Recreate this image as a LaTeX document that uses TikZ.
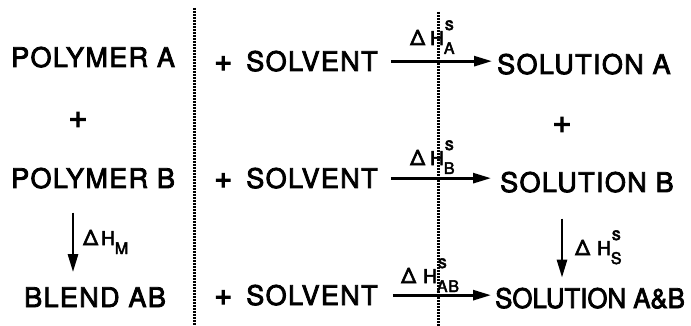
\documentclass[tikz,border=0pt]{standalone}
\usepackage{fontspec}
\setmainfont{TeX Gyre Heros}[LetterSpace=5,FakeBold=3]
\usetikzlibrary{arrows.meta}
\newcommand{\enth}[2][5pt]{{\fontsize{21}{21}\selectfont Δ\hspace{#1}\fontsize{19}{19}\selectfont H}\rlap{\raisebox{-9pt}{\fontsize{16}{16}\selectfont #2}}\rlap{\raisebox{15pt}{\fontsize{18}{18}\selectfont\hspace{1pt}s}}\phantom{\fontsize{16}{16}\selectfont #2}}
\newcommand{\enthm}{{\fontsize{21}{21}\selectfont Δ\hspace{3pt}\fontsize{19}{19}\selectfont H}\raisebox{-9pt}{\fontsize{16}{16}\selectfont M}}
\newcommand{\plussolvent}{{\fontsize{31}{31}\selectfont +}\hspace{14pt}SOLVENT}
\begin{document}
\begin{tikzpicture}[x=1pt,y=-1pt,
  txt/.style={inner sep=0pt,anchor=base west,font=\fontsize{27}{30}\selectfont},
  lbl/.style={inner sep=0pt,anchor=base west},
  arr/.style={line width=2.7pt,-{Triangle[length=18pt,width=10pt]}},
  vdots/.style={line width=3pt,dash pattern=on 1.9pt off 1.1pt}]
\path[use as bounding box] (0,0) rectangle (691,326);
% dotted separators
\coordinate (d1t) at (194,8);
\coordinate (d1b) at (194,326);
\coordinate (d2t) at (438,12);
\coordinate (d2b) at (438,326);
\draw[vdots] (d1t) -- (d1b);
\draw[vdots] (d2t) -- (d2b);
% row 1
\node[txt] (pa) at (11,67) {POLYMER A};
\node[txt] (s1) at (214,71) {\plussolvent};
\node[txt] (sa) at (497,74) {SOLUTION A};
% pluses
\node[txt,anchor=center,font=\fontsize{33}{33}\selectfont] (p1) at (78,120) {+};
\node[txt,anchor=center,font=\fontsize{33}{33}\selectfont] (p2) at (562,125) {+};
% row 2
\node[txt] (pb) at (11,188) {POLYMER B};
\node[txt] (s2) at (214,188) {\plussolvent};
\node[txt] (sb) at (500,192) {SOLUTION B};
% row 3
\node[txt] (bl) at (24,307) {BLEND AB};
\node[txt] (s3) at (214,305) {\plussolvent};
\node[txt] (sab) at (495,308) {\scalebox{0.955}[1]{\addfontfeature{LetterSpace=0}SOLUTION A\&B}};
% horizontal arrows
\draw[arr,shorten <=13pt,shorten >=5pt] (s1.east) -- (s1.east -| sa.west);
\draw[arr,shorten <=13pt,shorten >=9pt] (s2.east) -- (s2.east -| sb.west);
\draw[arr,shorten <=15pt,shorten >=4pt] (s3.east) -- (s3.east -| sab.west);
% vertical arrows
\draw[arr,shorten <=24pt,shorten >=15pt] ([xshift=62pt]pb.south west) -- ([xshift=62pt]pb.south west |- bl.north);
\draw[arr,shorten <=26pt,shorten >=10pt] ([xshift=62pt]sb.south west) -- ([xshift=62pt]sb.south west |- sab.north);
% labels
\node[lbl] (la) at (410,45) {\enth{A}};
\node[lbl] (lb) at (410,165) {\enth{B}};
\node[lbl] (lab) at (401,283) {\enth[7pt]{AB}};
\node[lbl] (lm) at (83,245) {\enthm};
\node[lbl] (ls) at (575,255) {\enth[7pt]{S}};
\end{tikzpicture}
\end{document}
